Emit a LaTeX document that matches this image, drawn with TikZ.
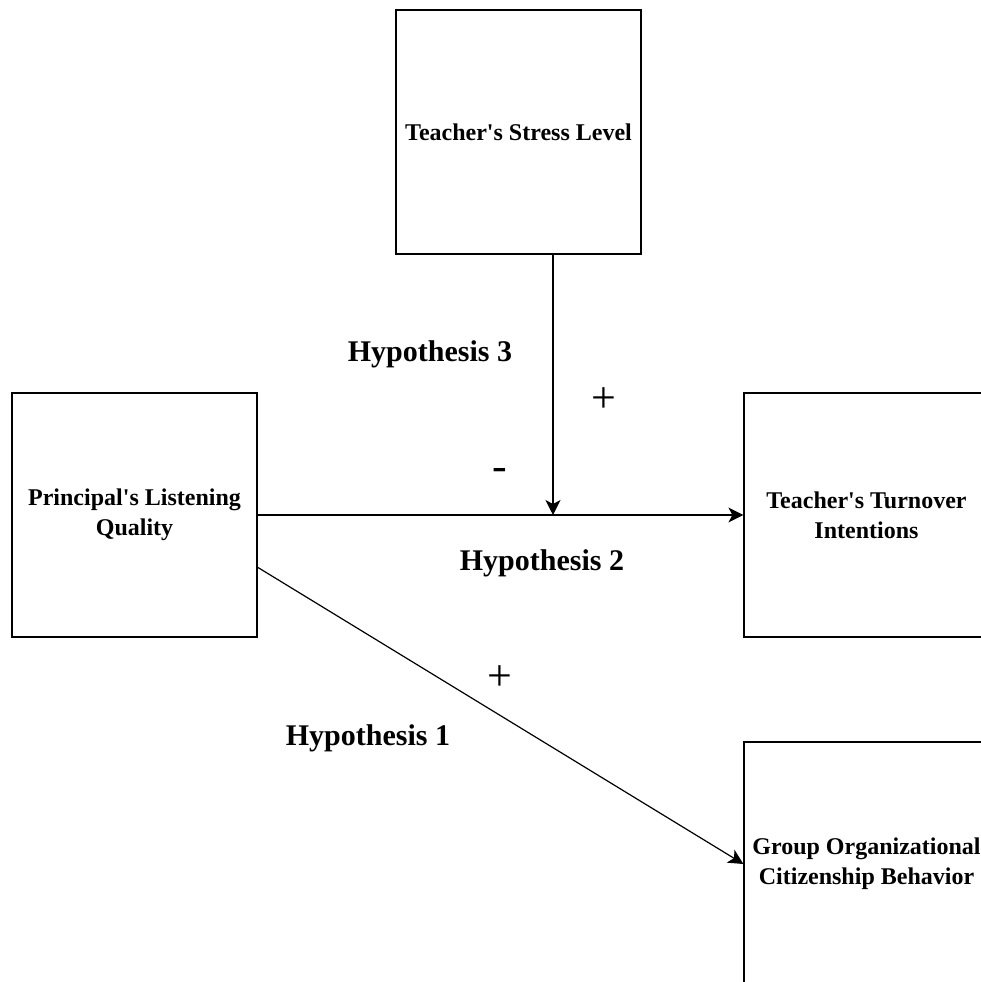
\documentclass[tikz,border=0pt]{standalone}
\usepackage{fontspec}
\setmainfont{Liberation Serif}[Ligatures=TeXOff]
\usetikzlibrary{arrows.meta}
\begin{document}
\begin{tikzpicture}[x=1pt,y=-1pt,
  box/.style={draw,line width=1.2pt,minimum width=245pt,minimum height=244pt,inner sep=0pt,align=center,font=\fontsize{24}{30}\selectfont\bfseries},
  hyp/.style={font=\fontsize{30}{36}\selectfont\bfseries,inner sep=0pt},
  sign/.style={font=\fontsize{44}{48}\selectfont,inner sep=0pt},
  arr/.style={line width=1.2pt,-{Stealth[length=15pt,width=15pt,inset=4pt]}}]
\useasboundingbox (0,0) rectangle (981,982);
\clip (0,0) rectangle (981,982);
\node[box] (stress) at (518.5,132) {Teacher's Stress Level};
\node[box] (plq) at (134.5,515) {Principal's Listening\\Quality};
\node[box] (tti) at (866.5,515) {Teacher's Turnover\\Intentions};
\node[box] (gocb) at (866.5,864) {Group Organizational\\Citizenship Behavior};
\coordinate (mid) at (553,515);
\draw[arr] (plq.east) -- (tti.west);
\draw[arr] (stress.south -| mid) -- (mid);
\draw[arr] (plq.-23) -- (gocb.west);
\node[hyp] (h3) at (430,354) {Hypothesis 3};
\node[hyp] (h2) at (542,563) {Hypothesis 2};
\node[hyp] (h1) at (368,738) {Hypothesis 1};
\node[sign] (p3) at (604,400) {+};
\node[sign] (m2) at (500,474) {-};
\node[sign] (p1) at (500,678) {+};
\end{tikzpicture}
\end{document}
